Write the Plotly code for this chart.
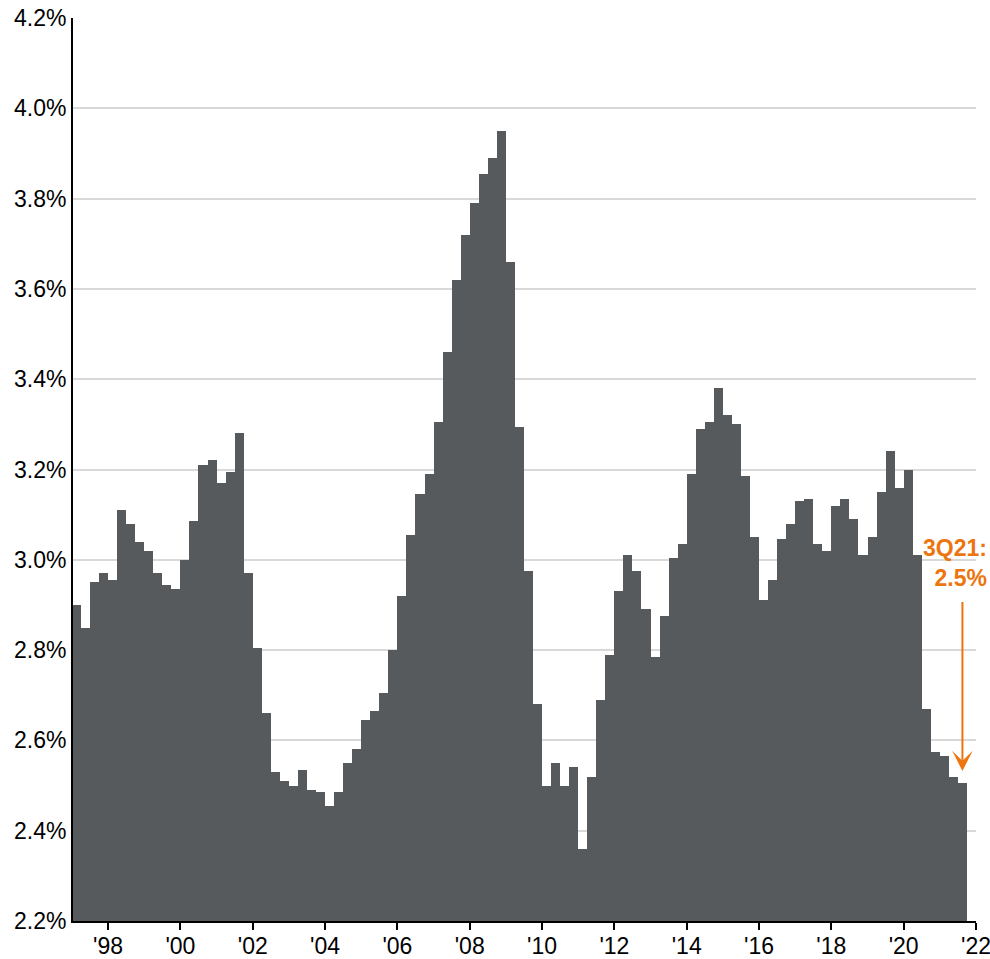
import plotly.graph_objects as go

# Quarterly series, 1Q97 .. 3Q21 (percent)
start_year = 1997
values = [
    2.90, 2.85, 2.95, 2.97,            # 1997
    2.955, 3.11, 3.08, 3.04,           # 1998
    3.02, 2.97, 2.945, 2.935,          # 1999
    3.00, 3.085, 3.21, 3.22,           # 2000
    3.17, 3.195, 3.28, 2.97,           # 2001
    2.805, 2.66, 2.53, 2.51,           # 2002
    2.50, 2.535, 2.49, 2.485,          # 2003
    2.455, 2.485, 2.55, 2.58,          # 2004
    2.645, 2.665, 2.705, 2.80,         # 2005
    2.92, 3.055, 3.145, 3.19,          # 2006
    3.305, 3.46, 3.62, 3.72,           # 2007
    3.79, 3.855, 3.89, 3.95,           # 2008
    3.66, 3.295, 2.975, 2.68,          # 2009
    2.50, 2.55, 2.50, 2.54,            # 2010
    2.36, 2.52, 2.69, 2.79,            # 2011
    2.93, 3.01, 2.975, 2.89,           # 2012
    2.785, 2.875, 3.005, 3.035,        # 2013
    3.19, 3.29, 3.305, 3.38,           # 2014
    3.32, 3.30, 3.185, 3.05,           # 2015
    2.91, 2.955, 3.045, 3.08,          # 2016
    3.13, 3.135, 3.035, 3.02,          # 2017
    3.12, 3.135, 3.09, 3.01,           # 2018
    3.05, 3.15, 3.24, 3.16,            # 2019
    3.20, 3.01, 2.67, 2.575,           # 2020
    2.565, 2.52, 2.505,                # 2021
]
quarter_labels = [f"{i % 4 + 1}Q{(start_year + i // 4) % 100:02d}" for i in range(len(values))]
x_pos = [start_year + i / 4 + 0.125 for i in range(len(values))]

tick_years = list(range(1998, 2023, 2))
tick_text = [f"'{y % 100:02d}" for y in tick_years]
y_ticks = [2.2, 2.4, 2.6, 2.8, 3.0, 3.2, 3.4, 3.6, 3.8, 4.0, 4.2]

last_label = quarter_labels[-1]
last_value = values[-1]

BAR = "#575A5D"
ORANGE = "#EC7510"
FONT = "Liberation Sans, Arial, sans-serif"

fig = go.Figure()
fig.add_trace(go.Bar(
    x=x_pos, y=values, width=0.25,
    marker=dict(color=BAR, line=dict(width=0)),
    text=quarter_labels, hoverinfo="text+y", textposition="none",
))

fig.update_layout(
    width=990, height=959,
    margin=dict(l=73, r=14, t=18, b=38, autoexpand=False),
    paper_bgcolor="white", plot_bgcolor="white",
    bargap=0, showlegend=False,
    font=dict(family=FONT, size=23, color="black"),
)
fig.update_xaxes(
    range=[1997.03, 2022.0], automargin=False,
    tickvals=tick_years, ticktext=tick_text,
    ticks="outside", ticklen=7, tickwidth=2, tickcolor="black",
    showline=True, linecolor="black", linewidth=2,
    showgrid=False, zeroline=False,
    ticklabeloverflow="allow", ticklabelstandoff=-4,
    tickfont=dict(family=FONT, size=23, color="black"),
)
fig.update_yaxes(
    range=[2.2, 4.2], automargin=False,
    tickvals=y_ticks, ticktext=[f"{v:.1f}%" for v in y_ticks],
    showline=True, linecolor="black", linewidth=2,
    showgrid=True, gridcolor="#D9D9D9", gridwidth=1.5,
    zeroline=False, ticks="", ticklabelstandoff=0,
    ticklabeloverflow="allow",
    tickfont=dict(family=FONT, size=23, color="black"),
)

# arrow pointing down to last bar
fig.add_annotation(
    x=x_pos[-1], y=last_value + 0.027,
    ax=x_pos[-1], ay=2.91, axref="x", ayref="y", xref="x", yref="y",
    text="", showarrow=True, arrowhead=3, arrowsize=1.7, arrowwidth=2,
    arrowcolor=ORANGE,
)
# label
fig.add_annotation(
    xref="paper", yref="y", x=1.0144, y=2.994,
    xanchor="right", yanchor="middle", align="right",
    text=f"<b>{last_label}:<br>{last_value:.1f}%</b>", showarrow=False,
    font=dict(family=FONT, size=23, color=ORANGE),
)

# remove the default page margin so the 990x959 figure fills the window
fig.write_html(
    "out.html",
    config={"displayModeBar": False},
    post_script="document.body.style.margin='0';document.body.style.overflow='hidden';",
)
